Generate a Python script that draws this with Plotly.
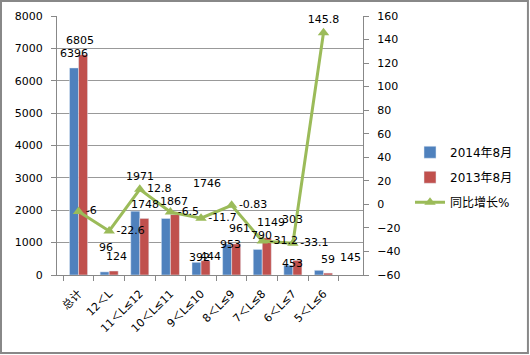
import plotly.graph_objects as go

categories = ["总计", "12＜L", "11＜L≤12", "10＜L≤11", "9＜L≤10", "8＜L≤9", "7＜L≤8", "6＜L≤7", "5＜L≤6"]
sales_2014 = [6396, 96, 1971, 1746, 392, 953, 790, 303, 145]
sales_2013 = [6805, 124, 1748, 1867, 444, 961, 1149, 453, 59]
growth_pct = [-6, -22.6, 12.8, -6.5, -11.7, -0.83, -31.2, -33.1, 145.8]

# label pixel offsets (style only)
off_2014 = [(-5, 14), (-3, 24), (0, 35), (37, 35), (-2, 5), (-1, 0), (-1, 14), (0, 46), (27, 13)]
off_2013 = [(1, 14), (7, 14), (5, 14), (4, 13), (9, 4), (8, 15), (9, 15), (0, -3), (4, 14)]
growth_pos = ["middle right"] * 8 + ["top center"]

BLUE = "#4F81BD"
RED = "#C0504D"
GREEN = "#9BBB59"
FONT = "DejaVu Sans, Noto Sans CJK SC"

fig = go.Figure()
fig.add_trace(go.Bar(x=categories, y=sales_2014, name="2014年8月", marker_color=BLUE,
                     legendgroup="a"))
fig.add_trace(go.Bar(x=categories, y=sales_2013, name="2013年8月", marker_color=RED,
                     legendgroup="b"))
fig.add_trace(go.Scatter(x=categories, y=growth_pct, name="同比增长%", yaxis="y2",
                         mode="lines+markers+text",
                         line=dict(color=GREEN, width=3),
                         marker=dict(symbol="triangle-up", size=10, color=GREEN),
                         text=[f"{v:g}" for v in growth_pct], textposition=growth_pos,
                         textfont=dict(size=11, color="#000", family=FONT),
                         cliponaxis=False, legendgroup="c"))

annotations = []
for cat, v, (dx, dy) in zip(categories, sales_2014, off_2014):
    annotations.append(dict(x=cat, y=v, xref="x", yref="y", text=str(v), showarrow=False,
                            xshift=dx, yshift=dy, font=dict(size=11, color="#000", family=FONT)))
for cat, v, (dx, dy) in zip(categories, sales_2013, off_2013):
    annotations.append(dict(x=cat, y=v, xref="x", yref="y", text=str(v), showarrow=False,
                            xshift=dx, yshift=dy, font=dict(size=11, color="#000", family=FONT)))

fig.update_layout(
    width=530, height=355,
    margin=dict(l=57, r=167, t=16, b=80),
    paper_bgcolor="white", plot_bgcolor="white",
    font=dict(family=FONT, size=11, color="#000"),
    barmode="group", bargap=0.41, bargroupgap=0,
    showlegend=True,
    legend=dict(xref="container", yref="container", x=0.7736, y=0.612,
                xanchor="left", yanchor="top",
                font=dict(size=12, family=FONT), tracegroupgap=6,
                traceorder="grouped", bgcolor="rgba(0,0,0,0)"),
    xaxis=dict(type="category", tickangle=-45, ticks="outside", tickson="boundaries",
               ticklen=5, tickcolor="#888", showline=True, linecolor="#888",
               showgrid=False, tickfont=dict(size=11), automargin=False,
               ticklabelstandoff=7),
    yaxis=dict(range=[0, 8000], dtick=1000, showgrid=True, gridcolor="#999",
               showline=True, linecolor="#888", ticks="outside", ticklen=5,
               tickcolor="#888", zeroline=False, tickfont=dict(size=11), automargin=False,
               ticklabelstandoff=6),
    yaxis2=dict(range=[-60, 160], dtick=20, overlaying="y", side="right",
                showgrid=False, showline=True, linecolor="#888", ticks="outside",
                ticklen=5, tickcolor="#888", zeroline=False, tickfont=dict(size=11),
                automargin=False, ticklabelstandoff=6),
    annotations=annotations,
    shapes=[dict(type="rect", xref="paper", yref="paper",
                 x0=-0.183, x1=1.539, y0=-0.301, y1=1.058,
                 line=dict(color="#888", width=2), fillcolor="rgba(0,0,0,0)", layer="below")],
)

fig.write_html("out.html", config={"displayModeBar": False},
               post_script="document.body.style.margin='0';")
